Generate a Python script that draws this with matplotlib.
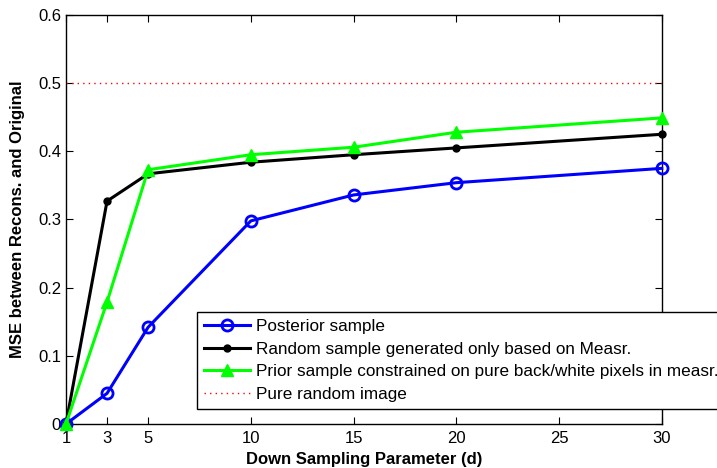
import matplotlib
matplotlib.use("Agg")
import matplotlib.pyplot as plt

# down-sampling parameter d
d = [1, 3, 5, 10, 15, 20, 30]
posterior = [0.0, 0.045, 0.142, 0.298, 0.336, 0.354, 0.375]
random_meas = [0.0, 0.327, 0.367, 0.384, 0.395, 0.405, 0.425]
prior_bw = [0.0, 0.179, 0.373, 0.395, 0.406, 0.428, 0.449]
pure_random = 0.5

xticks = [1, 3, 5, 10, 15, 20, 25, 30]
yticks = [0, 0.1, 0.2, 0.3, 0.4, 0.5, 0.6]
ytick_labels = ["0", "0.1", "0.2", "0.3", "0.4", "0.5", "0.6"]

plt.rcParams["font.family"] = ["Liberation Sans", "DejaVu Sans"]

fig = plt.figure(figsize=(7.17, 4.68), dpi=100)
ax = fig.add_axes([0.092, 0.094, 0.831, 0.874])

ax.plot(d, posterior, color="#0000ff", lw=2.2, marker="o", ms=8,
        mfc="none", mew=2, label="Posterior sample", clip_on=False, zorder=3)
ax.plot(d, random_meas, color="black", lw=2.2, marker="o", ms=5,
        label="Random sample generated only based on Measr.", clip_on=False, zorder=3)
ax.plot(d, prior_bw, color="#00ff00", lw=2.2, marker="^", ms=9,
        label="Prior sample constrained on pure back/white pixels in measr.",
        clip_on=False, zorder=3)
ax.plot([d[0], d[-1]], [pure_random, pure_random], color="#ff0000", lw=1,
        ls=(0, (1, 3)), label="Pure random image", zorder=2)

ax.set_xlim(1, 30)
ax.set_ylim(0, 0.6)
ax.set_xticks(xticks)
ax.set_yticks(yticks)
ax.set_yticklabels(ytick_labels)
ax.tick_params(direction="in", top=True, right=True, labelsize=12, length=5)
ax.tick_params(axis="x", pad=5)
for s in ax.spines.values():
    s.set_linewidth(1)

ax.set_xlabel("Down Sampling Parameter (d)", fontsize=12, fontweight="bold", labelpad=4)
ax.set_ylabel("MSE between Recons. and Original", fontsize=12, fontweight="bold",
              labelpad=9)

leg = ax.legend(loc="lower left", bbox_to_anchor=(0.22, 0.037),
                fontsize=12.3, fancybox=False, framealpha=1,
                edgecolor="black", borderaxespad=0, handlelength=2.7,
                handletextpad=0.35, labelspacing=0.45, borderpad=0.4)
leg.get_frame().set_linewidth(1)

fig.savefig("out.png", dpi=100)
